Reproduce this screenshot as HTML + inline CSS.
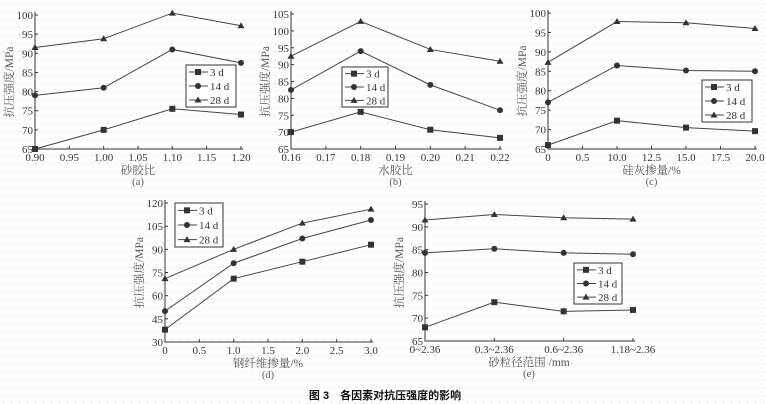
<!DOCTYPE html>
<html><head><meta charset="utf-8"><style>
body{margin:0;background:#fff;}
svg{display:block;}
text{font-family:"Liberation Serif","Noto Serif CJK SC",serif;fill:#333;}
</style></head><body>
<svg id="fig" width="766" height="404" viewBox="0 0 766 404" xmlns="http://www.w3.org/2000/svg">
<defs><pattern id="dots" width="8" height="8" patternUnits="userSpaceOnUse"><rect x="3" y="3" width="1" height="1" fill="#c8c8c8"/></pattern></defs>
<rect width="766" height="404" fill="url(#dots)"/>
<text x="385" y="399" text-anchor="middle" font-size="11" font-weight="bold" style="font-family:'Liberation Sans','Noto Sans CJK SC',sans-serif;fill:#111">图 3　各因素对抗压强度的影响</text>
</svg>
<script>
const seriesNames = ["3 d","14 d","28 d"];
// (a)
const aCats = [0,2,4,6];
const aTicks = ["0.90","0.95","1.00","1.05","1.10","1.15","1.20"];
const a3 = [65,70,75.5,74];
const a14 = [79,81,91,87.5];
const a28 = [91.5,93.8,100.5,97.2];
const aY = [65,70,75,80,85,90,95,100];
// (b)
const bTicks = ["0.16","0.17","0.18","0.19","0.20","0.21","0.22"];
const b3 = [70,76,70.7,68.3];
const b14 = [82.5,94,84,76.5];
const b28 = [92.5,102.8,94.5,91];
const bY = [65,70,75,80,85,90,95,100,105];
// (c)
const cTicks = ["0","0.5","10.0","12.5","15.0","17.5","20.0"];
const c3 = [66,72.3,70.5,69.6];
const c14 = [77,86.5,85.2,85];
const c28 = [87.3,97.8,97.5,96];
const cY = [65,70,75,80,85,90,95,100];
// (d)
const dTicks = ["0","0.5","1.0","1.5","2.0","2.5","3.0"];
const d3 = [38,71,82,93];
const d14 = [50,81,97,109];
const d28 = [71,90,107,116];
const dY = [30,45,60,75,90,105,120];
// (e)
const eCats = [0,1,2,3];
const eTicks = ["0~2.36","0.3~2.36","0.6~2.36","1.18~2.36"];
const e3 = [68,73.5,71.5,71.8];
const e14 = [84.3,85.2,84.3,84];
const e28 = [91.5,92.7,92,91.7];
const eY = [65,70,75,80,85,90,95];

const NS="http://www.w3.org/2000/svg";
const svg=document.getElementById('fig');
function mk(tag,attrs,parent){const e=document.createElementNS(NS,tag);for(const k in attrs)e.setAttribute(k,attrs[k]);(parent||svg).appendChild(e);return e;}

function panel(p){
  const g=mk('g',{});
  
  
  const ymin=p.yTicks[0],ymax=p.yTicks[p.yTicks.length-1];
  const nX=p.xTicks.length-1;
  const sx=i=>p.x0+(p.x1-p.x0)*i/p.xMax;
  const sy=v=>p.y1-(p.y1-p.y0)*(v-ymin)/(ymax-ymin);
  const ax=mk('path',{d:`M${p.x0},${p.y0-3}V${p.y1}H${p.x1+2}`,fill:'none',stroke:'#333','stroke-width':1},g);
  
  
  p.yTicks.forEach(v=>{
    const y=sy(v);
    mk('line',{x1:p.x0,x2:p.x0+3,y1:y,y2:y,stroke:'#333'},g);
    const t=mk('text',{x:p.x0-2,y:y+4,'text-anchor':'end','font-size':11},g);t.textContent=v;
    
    
  });
  p.xTicks.forEach((s,i)=>{
    const x=p.x0+(p.x1-p.x0)*i/nX;
    mk('line',{x1:x,x2:x,y1:p.y1,y2:p.y1-3,stroke:'#333'},g);
    const t=mk('text',{x:x,y:p.y1+12,'text-anchor':'middle','font-size':11},g);t.textContent=s;
    
    
  });
  const yl=mk('text',{x:0,y:0,'text-anchor':'middle','font-size':11.5,transform:`translate(${p.x0-22},${(p.y0+p.y1)/2}) rotate(-90)`,style:'fill:#555'},g);
  yl.textContent='抗压强度/MPa';
  
  
  const xl=mk('text',{x:(p.x0+p.x1)/2,y:p.y1+25,'text-anchor':'middle','font-size':11.5,style:'fill:#555'},g);
  xl.textContent=p.xLabel;
  
  
  const sl=mk('text',{x:(p.x0+p.x1)/2,y:p.y1+36,'text-anchor':'middle','font-size':10.5,style:'fill:#555'},g);
  sl.textContent='('+p.id+')';
  
  
  p.series.forEach((vals,si)=>{
    const pts=vals.map((v,i)=>[sx(p.cats[i]),sy(v)]);
    const l=mk('polyline',{points:pts.map(q=>q.join(',')).join(' '),fill:'none',stroke:'#444','stroke-width':1},g);
    
    
    pts.forEach(q=>{marker(g,si,q[0],q[1]);});
  });
  const L=p.legend;
  const lb=mk('rect',{x:L[0],y:L[1],width:L[2],height:L[3],fill:'#fff',stroke:'#333'},g);
  
  
  seriesNames.forEach((n,si)=>{
    const y=L[1]+L[3]*(si+0.5)/3;
    mk('line',{x1:L[0]+3,x2:L[0]+22,y1:y,y2:y,stroke:'#444'},g);
    marker(g,si,L[0]+12,y);
    const t=mk('text',{x:L[0]+24,y:y+4,'font-size':11},g);t.textContent=n;
    
    
  });
}
function marker(g,si,x,y){
  let m;
  if(si===0)m=mk('rect',{x:x-3,y:y-3,width:6,height:6,fill:'#333'},g);
  else if(si===1)m=mk('circle',{cx:x,cy:y,r:3,fill:'#333'},g);
  else m=mk('path',{d:`M${x},${y-3.5}L${x+3.5},${y+2.5}L${x-3.5},${y+2.5}Z`,fill:'#333'},g);
  
  
}
panel({id:'a',x0:35,x1:241,y0:15,y1:149,xMax:6,cats:aCats,xTicks:aTicks,yTicks:aY,series:[a3,a14,a28],xLabel:'砂胶比',legend:[186,65,50,42]});
panel({id:'b',x0:291,x1:500,y0:14,y1:149,xMax:6,cats:aCats,xTicks:bTicks,yTicks:bY,series:[b3,b14,b28],xLabel:'水胶比',legend:[342,67,46,40]});
panel({id:'c',x0:548,x1:755,y0:13,y1:149,xMax:6,cats:aCats,xTicks:cTicks,yTicks:cY,series:[c3,c14,c28],xLabel:'硅灰掺量/%',legend:[702,80,50,42]});
panel({id:'d',x0:165,x1:371,y0:203,y1:342,xMax:6,cats:aCats,xTicks:dTicks,yTicks:dY,series:[d3,d14,d28],xLabel:'钢纤维掺量/%',legend:[175,203,48,44]});
panel({id:'e',x0:425,x1:633,y0:204,y1:341,xMax:3,cats:eCats,xTicks:eTicks,yTicks:eY,series:[e3,e14,e28],xLabel:'砂粒径范围 /mm',legend:[574,263,48,41]});
</script>
</body></html>
